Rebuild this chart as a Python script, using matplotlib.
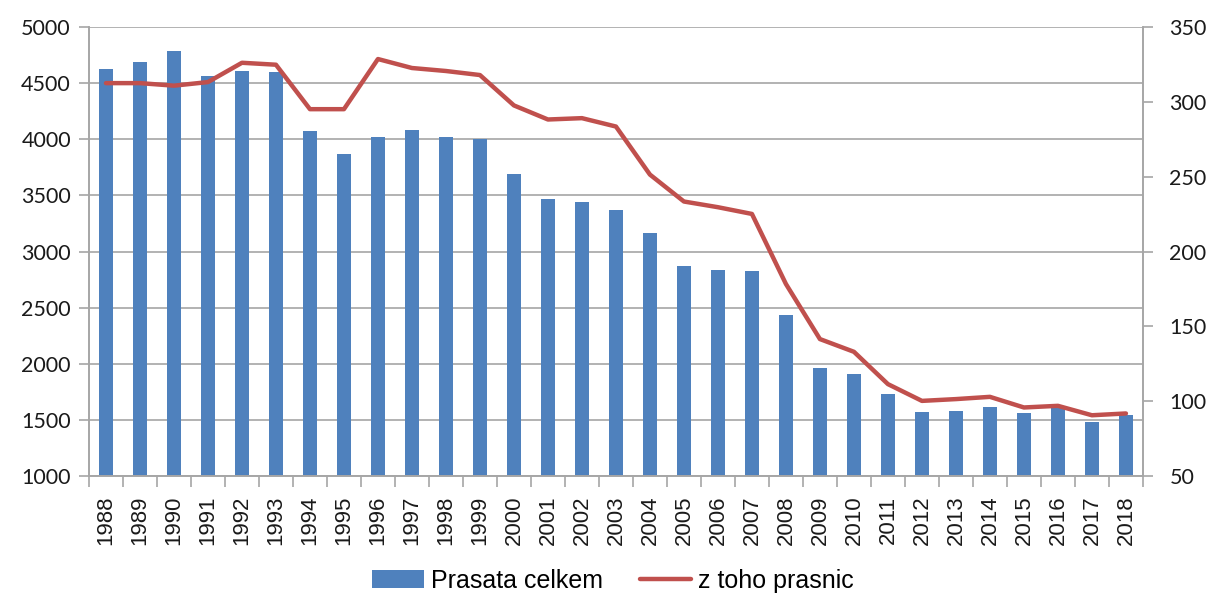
import numpy as np
import matplotlib.pyplot as plt

plt.rcParams['font.family'] = ['Liberation Sans', 'DejaVu Sans']

# --- data ---
years = [str(y) for y in range(1988, 2019)]
prasata_celkem = [4622, 4688, 4789, 4563, 4610, 4601, 4072, 3869, 4018, 4083,
                  4018, 4003, 3691, 3464, 3443, 3366, 3164, 2872, 2839, 2828,
                  2435, 1961, 1905, 1735, 1569, 1581, 1613, 1557, 1610, 1479,
                  1545]
prasnice = [312.5, 312.5, 310.8, 313.2, 326.1, 324.8, 295.1, 295.1, 328.6, 322.6,
            320.6, 317.9, 297.6, 288.2, 289.1, 283.5, 251.4, 233.4, 229.6, 225.1,
            178.3, 141.5, 133.0, 111.4, 100.2, 101.4, 102.9, 95.8, 96.9, 90.6,
            91.8]

left_ticks = [1000, 1500, 2000, 2500, 3000, 3500, 4000, 4500, 5000]
right_ticks = [50, 100, 150, 200, 250, 300, 350]

bar_color = '#4F81BD'
line_color = '#C0504D'
grid_color = '#A6A6A6'
text_color = '#1a1a1a'

fig = plt.figure(figsize=(12.12, 5.96), dpi=100)
ax = fig.add_axes([0.0734, 0.2013, 0.8696, 0.7534])
x = np.arange(len(years))

ax.set_axisbelow(True)
ax.bar(x, prasata_celkem, width=0.4, color=bar_color, label='Prasata celkem', zorder=2)
ax.set_ylim(1000, 5000)
ax.set_yticks(left_ticks)
ax.set_xlim(-0.5, len(years) - 0.5)
ax.yaxis.grid(True, color=grid_color, linewidth=1.2)

ax.set_xticks(x)
ax.set_xticklabels(years, rotation=90)
ax.set_xticks(np.arange(len(years) + 1) - 0.5, minor=True)
ax.tick_params(axis='x', which='major', length=0, pad=14, labelsize=16,
               labelcolor=text_color)
ax.tick_params(axis='x', which='minor', length=8, color=grid_color, width=1.2)
ax.tick_params(axis='y', length=7, color=grid_color, width=1.2, labelsize=15.5,
               labelcolor=text_color, pad=6)
for lab in ax.get_yticklabels():
    lab.set_fontfamily(['Lato', 'DejaVu Sans'])

ax2 = ax.twinx()
ax2.plot(x, prasnice, color=line_color, linewidth=3.2, label='z toho prasnic',
         solid_capstyle='round', zorder=3)
ax2.set_ylim(50, 350)
ax2.set_yticks(right_ticks)
ax2.tick_params(axis='y', length=7, color=grid_color, width=1.2, labelsize=15.5,
                labelcolor=text_color, pad=12)
for lab in ax2.get_yticklabels():
    lab.set_fontfamily(['Lato', 'DejaVu Sans'])

for a in (ax, ax2):
    a.spines['top'].set_visible(False)
    for s in ('left', 'right', 'bottom'):
        a.spines[s].set_color(grid_color)
        a.spines[s].set_linewidth(1.2)

h1, l1 = ax.get_legend_handles_labels()
h2, l2 = ax2.get_legend_handles_labels()
fig.legend(h1 + h2, l1 + l2, loc='center', bbox_to_anchor=(0.506, 0.026), ncol=2,
           frameon=False, fontsize=18, handlelength=2.05, handletextpad=0.28,
           columnspacing=1.5, borderpad=0.1)

fig.savefig('out.png', dpi=100)
